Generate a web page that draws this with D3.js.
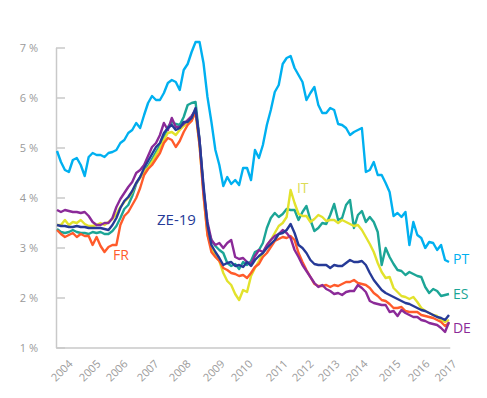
<!DOCTYPE html>
<html><head><meta charset="utf-8">
<script src="https://cdn.jsdelivr.net/npm/d3@7"></script>
<style>body{margin:0;background:#fff}svg{display:block}</style>
</head><body><svg id="c" width="487" height="398"></svg>
<script>
// ---- data (yields in %) ----
const yearLabels = ["2004","2005","2006","2007","2008","2009","2010","2011","2012","2013","2014","2015","2016","2017"];
const yearTickIdx = [4.04,11.11,17.93,25.76,33.84,42.43,49.5,58.34,64.91,71.47,78.54,86.88,94.2,101.0];
const yTicks = [1,2,3,4,5,6,7];

const PT = [4.93,4.71,4.55,4.51,4.75,4.79,4.65,4.43,4.81,4.89,
4.85,4.85,4.81,4.89,4.91,4.95,5.09,5.15,5.29,5.35,
5.49,5.39,5.65,5.89,6.03,5.95,5.95,6.09,6.29,6.35,
6.31,6.15,6.55,6.67,6.91,7.11,7.11,6.69,6.01,5.51,
4.95,4.65,4.23,4.41,4.27,4.35,4.25,4.59,4.59,4.35,
4.95,4.79,5.05,5.45,5.75,6.11,6.25,6.67,6.79,6.83,
6.59,6.45,6.31,5.95,6.09,6.21,5.85,5.69,5.69,5.79,
5.75,5.47,5.45,5.39,5.25,5.31,5.35,5.39,4.51,4.55,
4.71,4.45,4.45,4.29,4.11,3.63,3.69,3.61,3.71,3.05,
3.51,3.25,3.19,2.99,3.11,3.09,2.95,3.05,2.75,2.71];

const ES = [3.37,3.31,3.29,3.31,3.35,3.31,3.29,3.29,3.27,3.31,
3.29,3.31,3.27,3.27,3.33,3.43,3.59,3.77,3.85,4.03,
4.27,4.41,4.53,4.63,4.77,4.91,5.05,5.19,5.41,5.51,
5.47,5.45,5.61,5.85,5.89,5.91,5.15,4.15,3.39,3.15,
3.03,2.95,2.89,2.69,2.63,2.67,2.57,2.71,2.65,2.73,
2.91,2.95,3.09,3.39,3.59,3.69,3.61,3.67,3.77,3.75,
3.75,3.55,3.71,3.83,3.55,3.33,3.39,3.49,3.47,3.65,
3.87,3.55,3.59,3.85,3.95,3.39,3.65,3.73,3.51,3.61,
3.51,3.31,2.65,2.99,2.81,2.67,2.55,2.53,2.45,2.51,
2.47,2.43,2.41,2.21,2.09,2.17,2.13,2.03,2.05,2.07];

const IT = [3.45,3.45,3.55,3.45,3.51,3.49,3.55,3.47,3.43,3.43,
3.45,3.49,3.45,3.51,3.57,3.67,3.81,3.91,3.99,4.11,
4.29,4.39,4.53,4.59,4.71,4.85,4.99,5.15,5.29,5.31,
5.25,5.35,5.43,5.49,5.55,5.69,5.05,4.05,3.25,2.99,
2.83,2.73,2.49,2.33,2.25,2.07,1.95,2.15,2.11,2.43,
2.59,2.73,2.89,3.03,3.15,3.29,3.43,3.49,3.61,4.15,
3.89,3.67,3.63,3.63,3.51,3.57,3.65,3.61,3.53,3.55,
3.55,3.49,3.55,3.51,3.47,3.43,3.45,3.35,3.21,3.07,
2.91,2.69,2.51,2.39,2.41,2.19,2.11,2.03,2.01,1.97,
2.01,1.91,1.79,1.73,1.69,1.65,1.63,1.55,1.51,1.55];

const FR = [3.35,3.27,3.21,3.25,3.29,3.21,3.27,3.23,3.23,3.05,
3.21,3.03,2.91,3.01,3.05,3.05,3.45,3.63,3.71,3.85,
3.99,4.19,4.45,4.57,4.65,4.77,4.89,5.09,5.19,5.15,
5.01,5.13,5.31,5.45,5.53,5.73,5.05,4.05,3.25,2.91,
2.81,2.73,2.59,2.55,2.49,2.47,2.43,2.45,2.39,2.49,
2.61,2.67,2.81,2.89,3.01,3.13,3.17,3.21,3.19,3.23,
3.15,2.89,2.71,2.55,2.41,2.27,2.23,2.23,2.25,2.21,
2.25,2.23,2.27,2.31,2.31,2.35,2.29,2.27,2.25,2.19,
2.09,2.03,1.95,1.93,1.87,1.79,1.79,1.81,1.73,1.71,
1.71,1.71,1.65,1.63,1.61,1.59,1.55,1.51,1.43,1.49];

const DE = [3.75,3.71,3.75,3.73,3.71,3.71,3.69,3.71,3.63,3.51,
3.45,3.45,3.49,3.49,3.59,3.81,3.97,4.09,4.21,4.31,
4.49,4.55,4.65,4.83,5.01,5.09,5.25,5.49,5.35,5.59,
5.41,5.41,5.47,5.55,5.63,5.75,5.15,4.15,3.51,3.15,
3.05,3.09,2.99,3.09,3.15,2.81,2.77,2.79,2.71,2.67,
2.83,2.95,2.91,3.05,3.15,3.23,3.27,3.35,3.29,3.19,
2.95,2.81,2.65,2.53,2.41,2.29,2.21,2.25,2.17,2.13,
2.07,2.09,2.05,2.11,2.13,2.13,2.25,2.19,2.11,1.93,
1.89,1.87,1.85,1.85,1.71,1.73,1.63,1.75,1.69,1.65,
1.61,1.61,1.55,1.53,1.49,1.47,1.45,1.39,1.31,1.51];

const ZE = [3.45,3.43,3.43,3.41,3.41,3.43,3.41,3.41,3.39,3.39,
3.39,3.39,3.37,3.35,3.45,3.59,3.79,3.93,4.01,4.13,
4.29,4.41,4.59,4.73,4.87,5.01,5.09,5.29,5.39,5.45,
5.35,5.39,5.51,5.51,5.59,5.79,5.13,4.25,3.45,3.05,
2.91,2.79,2.65,2.69,2.71,2.63,2.65,2.61,2.71,2.63,
2.75,2.83,2.89,2.99,3.07,3.15,3.27,3.29,3.35,3.47,
3.29,3.05,2.99,2.89,2.75,2.67,2.65,2.65,2.65,2.59,
2.65,2.63,2.63,2.69,2.75,2.71,2.71,2.73,2.65,2.49,
2.35,2.25,2.15,2.09,2.05,2.01,1.97,1.93,1.89,1.87,
1.83,1.79,1.75,1.73,1.69,1.65,1.61,1.59,1.55,1.65];

const seriesNames = ["PT","ES","IT","FR","DE","ZE-19"];
// ---- presentation ----
const series = [
  {name:"PT", values:PT, color:"#00b0f0", label:{i:100.0, v:2.67, size:14}},
  {name:"ES", values:ES, color:"#1ca596", label:{i:100.0, v:1.97, size:14}},
  {name:"IT", values:IT, color:"#e2e22c", label:{i:60.6, v:4.09, size:14}, labelColor:"#dcdc55"},
  {name:"FR", values:FR, color:"#ff5b2b", label:{i:14.14, v:2.75, size:14}},
  {name:"DE", values:DE, color:"#8b2a98", label:{i:100.0, v:1.29, size:14}},
  {name:"ZE-19", values:ZE, color:"#263a97", label:{i:25.25, v:3.45, size:15}}
];

const font = "'Open Sans', 'DejaVu Sans', sans-serif";
const svg = d3.select("#c");
const x = d3.scaleLinear().domain([0, PT.length - 1]).range([57, 449]);
const y = d3.scaleLinear().domain([1, 7]).range([347.5, 47.5]);
const axisColor = "#c9c9c9", textColor = "#9a9a9a";

// y tick marks (pointing into the plot) + axis line
const yTickG = svg.append("g").attr("transform", "translate(56,0)")
  .call(d3.axisRight(y).tickValues(yTicks).tickSize(9).tickSizeOuter(0).tickFormat(""));
yTickG.selectAll("path,line").attr("stroke", axisColor).attr("stroke-width", 1.5);

// y labels
const yLab = svg.append("g").attr("transform", "translate(56,0)")
  .call(d3.axisLeft(y).tickValues(yTicks).tickSize(0).tickPadding(18).tickFormat(d => d + " %"));
yLab.select(".domain").remove();
yLab.selectAll("text").attr("font-family", font).attr("font-size", 11).attr("fill", textColor);

// x axis
const xAx = svg.append("g").attr("transform", "translate(0," + y(1) + ")")
  .call(d3.axisBottom(x).tickValues(yearTickIdx).tickSize(0).tickSizeOuter(0)
    .tickFormat((d, i) => yearLabels[i]));
xAx.select(".domain").attr("stroke", axisColor).attr("stroke-width", 1.5).attr("stroke-linecap", "square");
xAx.selectAll("text")
  .attr("font-family", font).attr("font-size", 11).attr("fill", textColor)
  .attr("x", 0).attr("y", 0).attr("dy", 0)
  .attr("text-anchor", "end")
  .attr("transform", "translate(0,17) rotate(-45)");

// lines
const line = d3.line().x((d, i) => x(i)).y(d => y(d));
svg.append("g").selectAll("path").data(series).join("path")
  .attr("d", s => line(s.values))
  .attr("fill", "none")
  .attr("stroke", s => s.color)
  .attr("stroke-width", 2.4)
  .attr("stroke-linejoin", "round");

// series labels
svg.append("g").selectAll("text").data(series).join("text")
  .attr("x", s => x(s.label.i))
  .attr("y", s => y(s.label.v))
  .attr("font-family", font)
  .attr("font-size", s => s.label.size)
  .attr("fill", s => s.labelColor || s.color)
  .text(s => s.name);
</script></body></html>
